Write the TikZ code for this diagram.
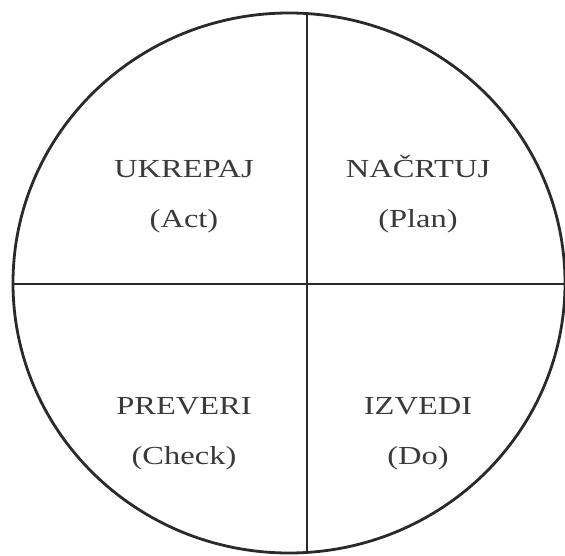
\documentclass[tikz,border=0pt]{standalone}
\usepackage{fontspec}
\setmainfont{Liberation Serif}
\newfontfamily\quadfont[FakeStretch=1.25]{Liberation Serif}
\definecolor{cycleink}{HTML}{2A2A2A}
\definecolor{cycletext}{HTML}{3A3A3A}

\begin{document}
\begin{tikzpicture}[
  x=1pt,
  y=-1pt,
  divider/.style={cycleink, line width=2.7pt},
  rim/.style={cycleink, line width=2.8pt},
  quadlabel/.style={cycletext, align=center, inner sep=0pt,
    font=\quadfont\fontsize{26}{50}\selectfont}
]
  % ---- page size, same as the scanned figure
  \useasboundingbox (0,0) rectangle (565,556);

  % ---- the two dividers, cut at the rim ---------------------------------
  \begin{scope}
    \clip (289,283) ellipse [x radius=276, y radius=270];
    \draw[divider] (307,0) -- (307,556);
    \draw[divider] (0,284) -- (565,284);
  \end{scope}

  % ---- rim --------------------------------------------------------------
  \draw[rim] (289,283) ellipse [x radius=276, y radius=270];

  % ---- the four phases (the caron lifts NAČRTUJ, so it sits 3pt higher)
  \node[quadlabel] (act)   at (184,197) {UKREPAJ\\(Act)};
  \node[quadlabel] (plan)  at (418,194) {NAČRTUJ\\(Plan)};
  \node[quadlabel] (check) at (184,434) {PREVERI\\(Check)};
  \node[quadlabel] (do)    at (418,434) {IZVEDI\\(Do)};
\end{tikzpicture}
\end{document}
